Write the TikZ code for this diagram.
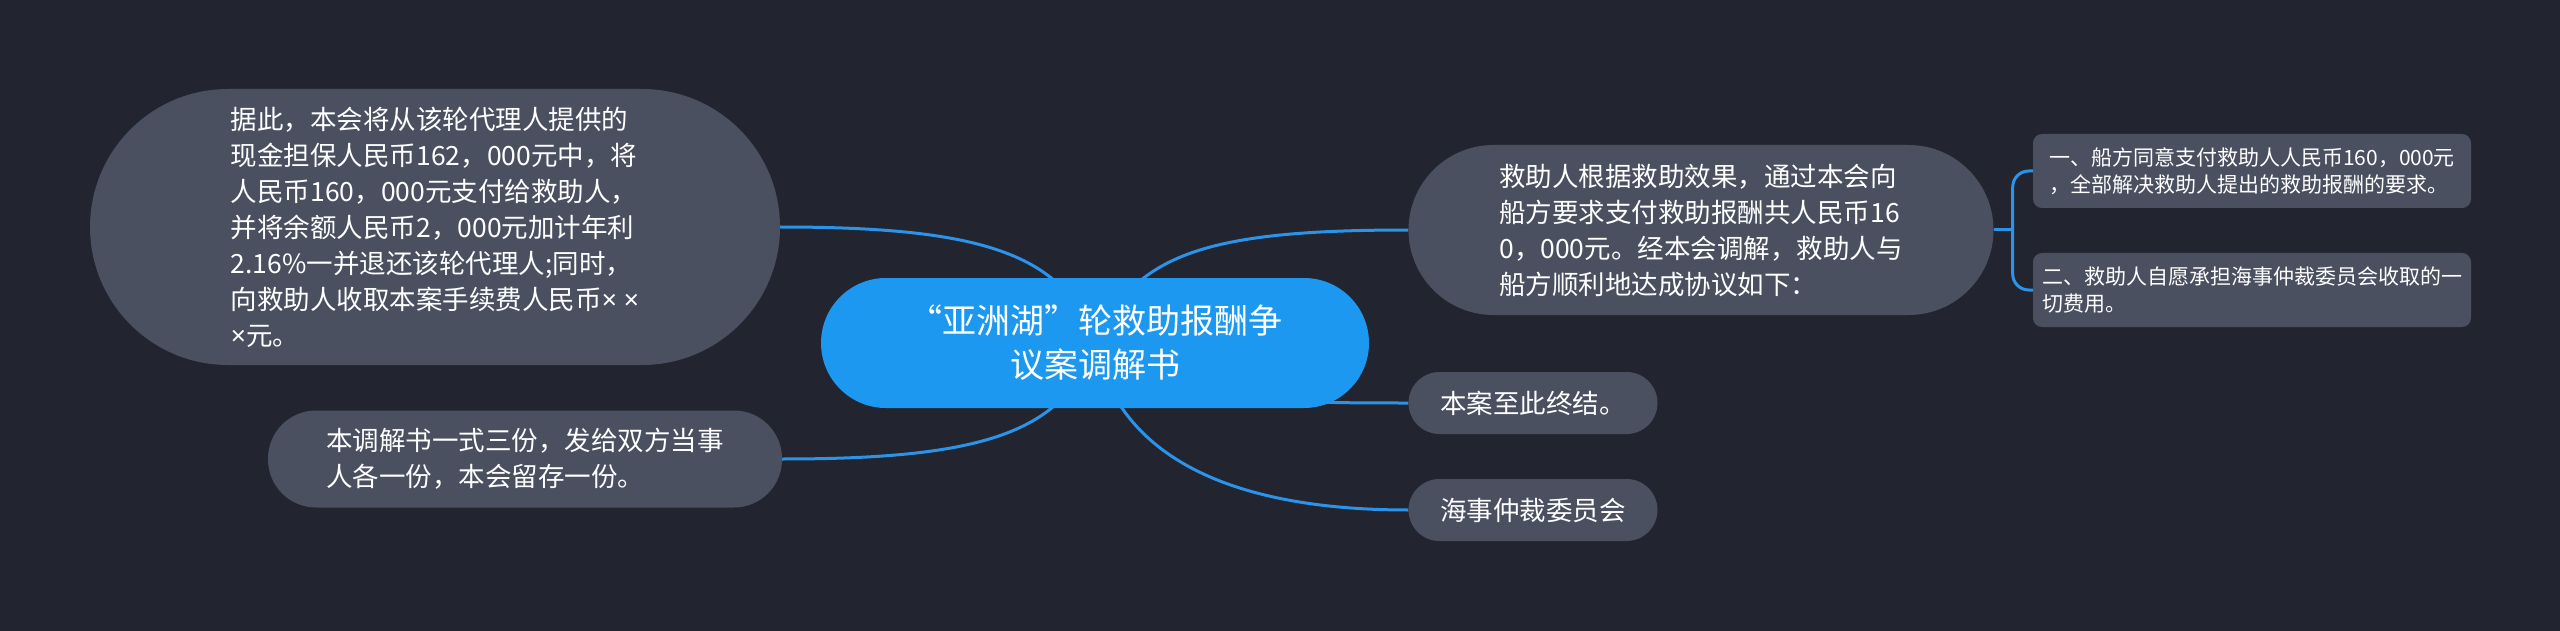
\documentclass[tikz,border=0pt]{standalone}
\usepackage{fontspec}
\setmainfont{Noto Sans CJK SC}
\newfontfamily\latinf{Noto Sans}
\usepackage{tikz}
\pgfdeclarelayer{bg}
\pgfdeclarelayer{links}
\pgfsetlayers{bg,links,main}
\definecolor{bgcol}{HTML}{22252F}
\definecolor{boxcol}{HTML}{4A5060}
\definecolor{rootcol}{HTML}{1C98F0}
\definecolor{linkcol}{HTML}{2B93E8}

\begin{document}
\begin{tikzpicture}[x=1pt,y=-1pt,
  main_node/.style={fill=boxcol, text=white, align=left, inner sep=0pt, font={\fontsize{26.5}{36}\selectfont}},
  root_node/.style={fill=rootcol, text=white, align=center, inner sep=0pt, font={\fontsize{34}{44}\selectfont}},
  sub_node/.style={fill=boxcol, text=white, align=left, inner sep=0pt, rounded corners=9pt, font={\fontsize{21}{27}\selectfont}},
  link/.style={draw=linkcol, line width=3pt}]

    \begin{pgfonlayer}{bg}
    \fill[bgcol] (0,0) rectangle (2560,631);
    \end{pgfonlayer}
    \useasboundingbox (0,0) rectangle (2560,631);

    \node[root_node, minimum width=548pt, minimum height=130pt, rounded corners=65pt] (0) at (1095,343) {“亚洲湖”轮救助报酬争\\议案调解书};

    \node[main_node, minimum width=690pt, minimum height=276pt, rounded corners=138pt] (1) at (435,227) {据此，本会将从该轮代理人提供的\\现金担保人民币162，000元中，将\\人民币160，000元支付给救助人，\\并将余额人民币2，000元加计年利\\2.16\%一并退还该轮代理人;同时，\\向救助人收取本案手续费人民币{\latinf × ×}\\{\latinf ×}元。};
    \node[main_node, minimum width=514pt, minimum height=97pt, rounded corners=48pt] (2) at (525,459) {本调解书一式三份，发给双方当事\\人各一份，本会留存一份。};

    \node[main_node, minimum width=585pt, minimum height=170pt, rounded corners=85pt] (3) at (1701,230) {救助人根据救助效果，通过本会向\\船方要求支付救助报酬共人民币16\\0，000元。经本会调解，救助人与\\船方顺利地达成协议如下：};
    \node[main_node, minimum width=249pt, minimum height=62pt, rounded corners=31pt] (4) at (1533,403) {本案至此终结。};
    \node[main_node, minimum width=249pt, minimum height=62pt, rounded corners=31pt] (5) at (1533,510) {海事仲裁委员会};

    \node[sub_node, minimum width=438pt, minimum height=74pt] (6) at (2252,171) {一、船方同意支付救助人人民币160，000元\\，全部解决救助人提出的救助报酬的要求。};
    \node[sub_node, minimum width=438pt, minimum height=74pt] (7) at (2252,290) {二、救助人自愿承担海事仲裁委员会收取的一\\切费用。};

    \begin{pgfonlayer}{links}
    \draw[link] (0.center) .. controls +(-30,-90) and +(200,0) .. (1.east);
    \draw[link] (0.center) .. controls +(-30,90) and +(200,0) .. (2.east);
    \draw[link] (0.center) .. controls +(40,-90) and +(-200,0) .. (3.west);
    \draw[link] (0.center) .. controls +(60,60) and +(-120,0) .. (4.west);
    \draw[link] (0.center) .. controls +(20,100) and +(-200,0) .. (5.west);

    \draw[link] (3.east) -- ++(19,0) coordinate (br);
    \draw[link, rounded corners=16pt] (br) |- (6.west);
    \draw[link, rounded corners=16pt] (br) |- (7.west);
    \end{pgfonlayer}
\end{tikzpicture}
\end{document}
